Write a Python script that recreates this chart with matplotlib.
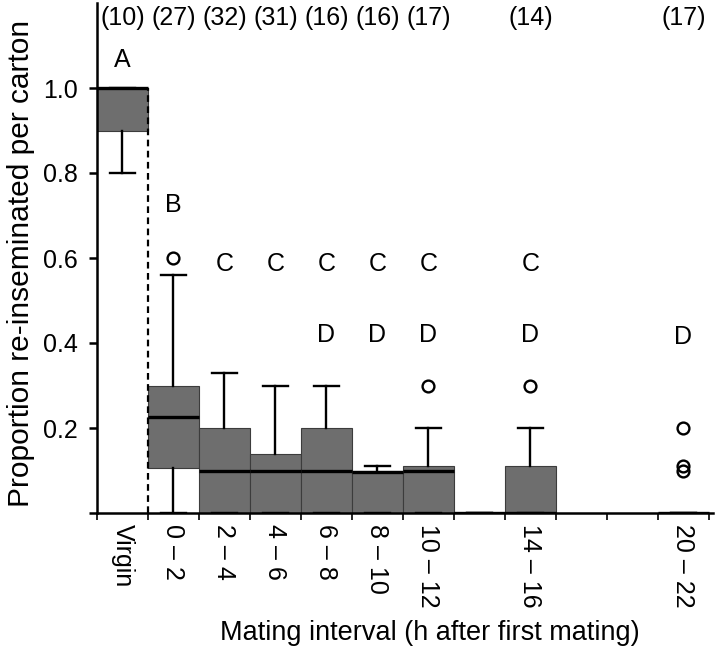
import matplotlib
matplotlib.use("Agg")
import matplotlib.pyplot as plt

plt.rcParams["font.family"] = ["Liberation Sans", "DejaVu Sans"]

# ---------- data ---------- #
slots = [0, 1, 2, 3, 4, 5, 6, 7, 8, 11]
labels = ["Virgin", "0 – 2", "2 – 4", "4 – 6", "6 – 8", "8 – 10", "10 – 12", "", "14 – 16", "20 – 22"]
q1 = [0.90, 0.105, 0.0, 0.0, 0.0, 0.0, 0.0, 0.0, 0.0, 0.0]
med = [1.00, 0.225, 0.10, 0.10, 0.10, 0.097, 0.10, 0.0, 0.0, 0.0]
q3 = [1.00, 0.30, 0.20, 0.14, 0.20, 0.10, 0.11, 0.0, 0.11, 0.0]
whislo = [0.80, 0.0, 0.0, 0.0, 0.0, 0.0, 0.0, 0.0, 0.0, 0.0]
whishi = [1.00, 0.56, 0.33, 0.30, 0.30, 0.11, 0.20, 0.0, 0.20, 0.0]
fliers = [[], [0.60], [], [], [], [], [0.30], [], [0.30], [0.20, 0.10, 0.11]]

count_slots = [0, 1, 2, 3, 4, 5, 6, 8, 11]
counts = [10, 27, 32, 31, 16, 16, 17, 14, 17]

# significance letters
letter_slots = [0, 1, 2, 3, 4, 5, 6, 8, 4, 5, 6, 8, 11]
letter_text = ["A", "B", "C", "C", "C", "C", "C", "C", "D", "D", "D", "D", "D"]
letter_y = [1.065, 0.725, 0.585, 0.585, 0.585, 0.585, 0.585, 0.585, 0.42, 0.42, 0.42, 0.42, 0.415]

n_slots = 12

# ---------- figure ---------- #
fig = plt.figure(figsize=(7.2, 6.56), dpi=100)
ax = fig.add_axes([97 / 720, 143 / 656, 616 / 720, 510 / 656])

stats = [dict(med=m, q1=a, q3=b, whislo=lo, whishi=hi, fliers=f)
         for m, a, b, lo, hi, f in zip(med, q1, q3, whislo, whishi, fliers)]
ax.bxp(stats, positions=slots, widths=1.0, capwidths=0.5, patch_artist=True,
       showfliers=True, manage_ticks=False,
       boxprops=dict(facecolor="#6e6e6e", edgecolor="#3c3c3c", linewidth=0.8),
       medianprops=dict(color="black", linewidth=2.4, solid_capstyle="butt"),
       whiskerprops=dict(color="black", linewidth=1.7),
       capprops=dict(color="black", linewidth=1.7),
       flierprops=dict(marker="o", markersize=8.5, markerfacecolor="none",
                       markeredgecolor="black", markeredgewidth=1.7))

# dashed separator after the virgin group
ax.vlines(0.5, 0, 1.0, colors="black", linestyles=(0, (3, 2)), linewidth=1.6)

for s, t, y in zip(letter_slots, letter_text, letter_y):
    ax.text(s, y, t, ha="center", va="center", fontsize=18)

for s, n in zip(count_slots, counts):
    ax.text(s, 1.165, f"({n})", ha="center", va="center", fontsize=18, clip_on=False)

ax.set_xlim(-0.5, n_slots - 0.42)
ax.set_ylim(0, 1.2)

ax.set_yticks([0, 0.2, 0.4, 0.6, 0.8, 1.0])
ax.set_yticklabels(["", "0.2", "0.4", "0.6", "0.8", "1.0"], fontsize=18)
ax.tick_params(axis="y", length=6, width=1.8, pad=8)

ax.set_xticks([k - 0.5 for k in range(n_slots + 1)])
ax.set_xticklabels([])
ax.tick_params(axis="x", which="major", length=5, width=1.2)
lab_pos = [s for s, l in zip(slots, labels) if l]
ax.set_xticks(lab_pos, minor=True)
ax.set_xticklabels([l for l in labels if l], minor=True, rotation=-90, fontsize=18, va="top")
ax.tick_params(axis="x", which="minor", length=0, pad=8)

for side in ("top", "right"):
    ax.spines[side].set_visible(False)
for side in ("left", "bottom"):
    ax.spines[side].set_linewidth(1.8)

ax.set_ylabel("Proportion re-inseminated per carton", fontsize=21.5)
ax.yaxis.set_label_coords(-0.1, 0.49)
ax.set_xlabel("Mating interval (h after first mating)", fontsize=19.5)
ax.xaxis.set_label_coords(0.54, -0.21)

fig.savefig("out.png", dpi=100)
